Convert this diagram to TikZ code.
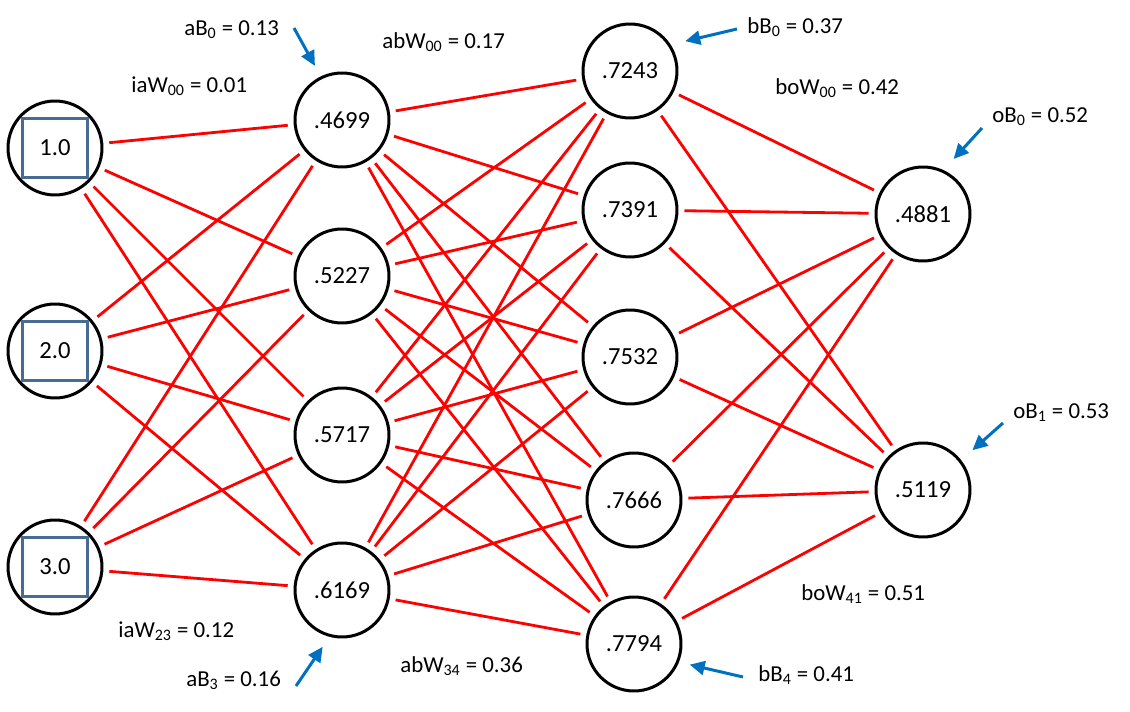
\documentclass[tikz,border=0pt]{standalone}
\usepackage{fontspec}
\setmainfont{Carlito}
\usetikzlibrary{arrows.meta}

\definecolor{biasblue}{RGB}{0,112,192}
\definecolor{boxblue}{RGB}{72,107,145}

\begin{document}
\begin{tikzpicture}[x = 0.02cm, y = -0.02cm,
  neuron/.style = {draw, circle, line width = 0.06cm, minimum size = 1.88cm, inner sep = 0pt,
    font = \fontsize{14}{17}\selectfont},
  inbox/.style = {draw = boxblue, line width = 0.06cm, minimum width = 1.32cm,
    minimum height = 1.18cm, inner sep = 0pt, font = \fontsize{14}{17}\selectfont},
  weight/.style = {red, line width = 0.056cm, shorten <= 0.12cm, shorten >= 0.12cm},
  bias/.style = {-{Triangle[length = 0.3cm, width = 0.28cm]}, biasblue, line width = 0.06cm},
  lbl/.style = {anchor = mid west, inner sep = 0pt, font = \fontsize{13}{16}\selectfont}]
  \useasboundingbox (0,0) rectangle (1130,712);

  % Strato di ingresso
  \node[neuron] (i1) at (55,148) {};
  \node[neuron] (i2) at (55,351) {};
  \node[neuron] (i3) at (55,567) {};
  \node[inbox] (q1) at (i1) {1.0};
  \node[inbox] (q2) at (i2) {2.0};
  \node[inbox] (q3) at (i3) {3.0};

  % Primo strato nascosto (a)
  \node[neuron] (a1) at (342,120) {.4699};
  \node[neuron] (a2) at (342,276) {.5227};
  \node[neuron] (a3) at (342,435) {.5717};
  \node[neuron] (a4) at (342,590) {.6169};

  % Secondo strato nascosto (b)
  \node[neuron] (b1) at (630,71) {.7243};
  \node[neuron] (b2) at (630,210) {.7391};
  \node[neuron] (b3) at (630,357) {.7532};
  \node[neuron] (b4) at (634,500) {.7666};
  \node[neuron] (b5) at (634,644) {.7794};

  % Strato di uscita
  \node[neuron] (o1) at (923,214) {.4881};
  \node[neuron] (o2) at (923,490) {.5119};

  % Pesi (tutte le connessioni tra strati vicini)
  \foreach \i in {1,2,3}
    \foreach \j in {1,...,4}
      \draw[weight] (i\i) -- (a\j);
  \foreach \i in {1,...,4}
    \foreach \j in {1,...,5}
      \draw[weight] (a\i) -- (b\j);
  \foreach \i in {1,...,5}
    \foreach \j in {1,2}
      \draw[weight] (b\i) -- (o\j);

  % Etichette dei pesi
  \node[lbl] (liaW00) at (131,88) {iaW\textsubscript{00} = 0.01};
  \node[lbl] (liaW23) at (118,633) {iaW\textsubscript{23} = 0.12};
  \node[lbl] (labW00) at (382,44) {abW\textsubscript{00} = 0.17};
  \node[lbl] (labW34) at (400,668) {abW\textsubscript{34} = 0.36};
  \node[lbl] (lboW00) at (775,90) {boW\textsubscript{00} = 0.42};
  \node[lbl] (lboW41) at (801,596) {boW\textsubscript{41} = 0.51};

  % Bias con le frecce
  \node[lbl] (laB0) at (184,31) {aB\textsubscript{0} = 0.13};
  \node[lbl] (laB3) at (186,682) {aB\textsubscript{3} = 0.16};
  \node[lbl] (lbB0) at (747,29) {bB\textsubscript{0} = 0.37};
  \node[lbl] (lbB4) at (758,677) {bB\textsubscript{4} = 0.41};
  \node[lbl] (loB0) at (992,118) {oB\textsubscript{0} = 0.52};
  \node[lbl] (loB1) at (1013,414) {oB\textsubscript{1} = 0.53};

  \coordinate (taB0) at (294,28);
  \coordinate (taB3) at (296,686);
  \coordinate (tbB0) at (737,29);
  \coordinate (tbB4) at (743,677);
  \coordinate (toB0) at (982,128);
  \coordinate (toB1) at (1003,423);

  \draw[bias, shorten >= 0.24cm] (taB0) -- (a1.116);
  \draw[bias, shorten >= 0.24cm] (taB3) -- (a4.255);
  \draw[bias, shorten >= 0.3cm] (tbB0) -- (b1.33);
  \draw[bias, shorten >= 0.22cm] (tbB4) -- (b5.-22);
  \draw[bias, shorten >= 0.3cm] (toB0) -- (o1.65);
  \draw[bias, shorten >= 0.3cm] (toB1) -- (o2.38);
\end{tikzpicture}
\end{document}
